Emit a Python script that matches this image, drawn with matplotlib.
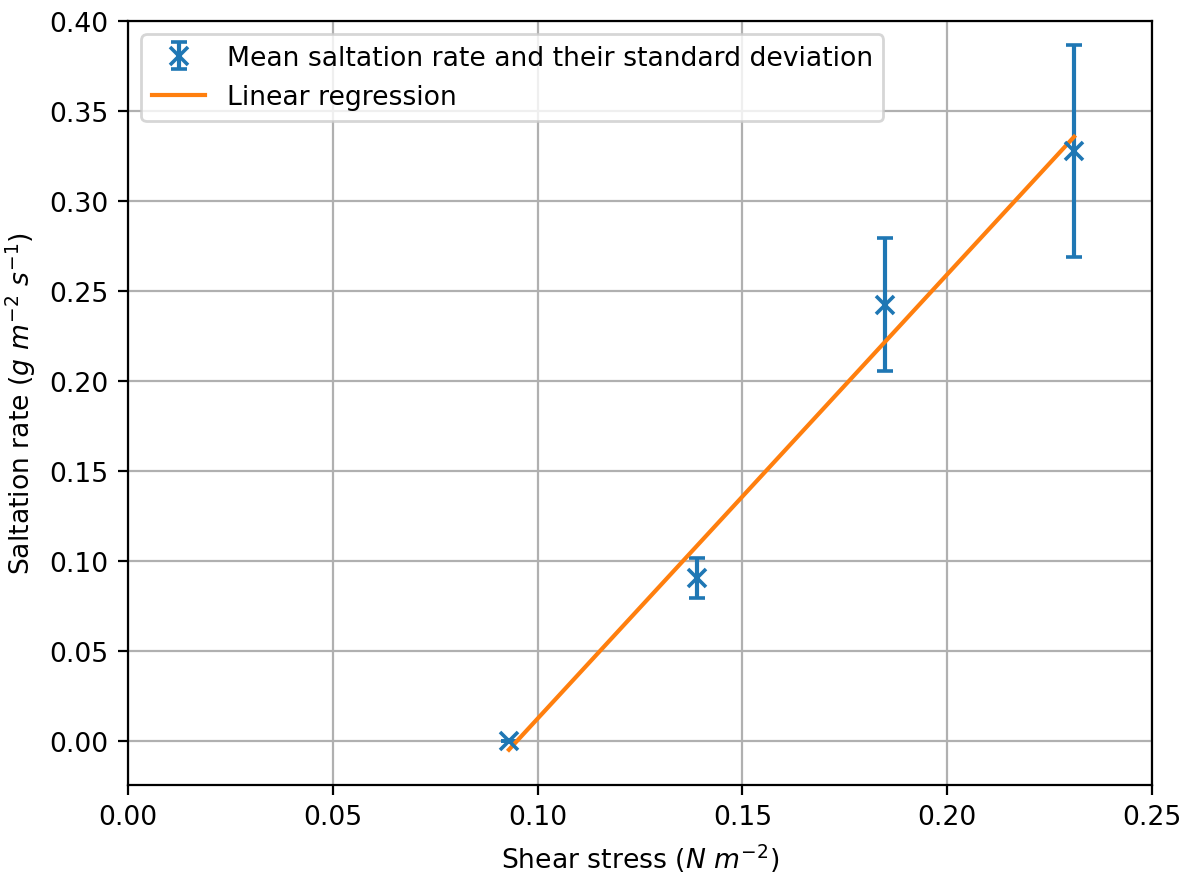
import numpy as np
import matplotlib
matplotlib.use("Agg")
import matplotlib.pyplot as plt

# values
shear_stress = [0.0930, 0.1389, 0.1848, 0.2310]
saltation_mean = [0.0, 0.0904, 0.2424, 0.3279]
saltation_std = [0.0, 0.011, 0.037, 0.059]

plt.rcParams['font.size'] = 9.6

fig = plt.figure(figsize=(5.96, 4.39), dpi=200)
ax = fig.add_axes([0.1074, 0.1048, 0.859, 0.870])

eb = ax.errorbar(shear_stress, saltation_mean, yerr=saltation_std, fmt='x',
                 markersize=6.5, markeredgewidth=1.3,
                 capsize=3, elinewidth=1.5, capthick=1.5,
                 label='Mean saltation rate and their standard deviation')

# linear regression through the means
slope, intercept = np.polyfit(shear_stress, saltation_mean, 1)
xs = np.array([min(shear_stress), max(shear_stress)])
line, = ax.plot(xs, slope * xs + intercept, color='C1', label='Linear regression')

ax.set_xlim(0, 0.25)
ax.set_ylim(top=0.40)
ax.set_xticks(np.arange(0, 0.2501, 0.05))
ax.set_yticks(np.arange(0, 0.4001, 0.05))
ax.grid(True)
ax.set_xlabel(r'Shear stress ($N\ m^{-2}$)')
ax.set_ylabel(r'Saltation rate ($g\ m^{-2}\ s^{-1}$)')
ax.legend(handles=[eb, line], loc='upper left')

fig.savefig('out.png', dpi=200)
